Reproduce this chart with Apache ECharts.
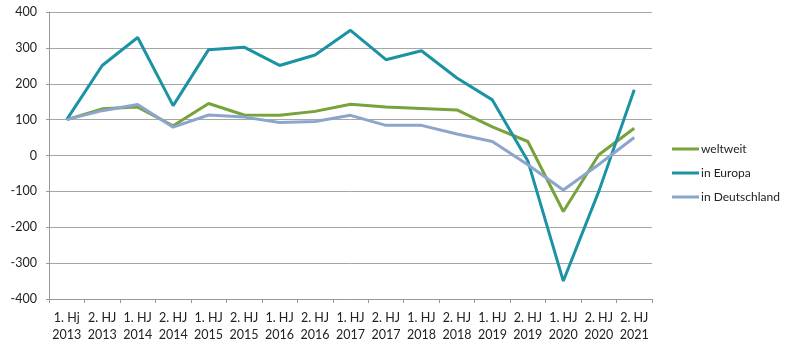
<!DOCTYPE html>
<html>
<head>
<meta charset="utf-8">
<script src="https://cdn.jsdelivr.net/npm/echarts@6/dist/echarts.min.js"></script>
<style>
  html, body { margin: 0; padding: 0; background: #fff; }
  #chart { width: 800px; height: 352px; }
</style>
</head>
<body>
<div id="chart"></div>
<script>
// Halbjahre (Beschriftung wie im Original)
const categories = [
  '1. Hj\n2013', '2. HJ\n2013', '1. HJ\n2014', '2. HJ\n2014', '1. HJ\n2015', '2. HJ\n2015',
  '1. HJ\n2016', '2. HJ\n2016', '1. HJ\n2017', '2. HJ\n2017', '1. HJ\n2018', '2. HJ\n2018',
  '1. HJ\n2019', '2. HJ\n2019', '1. HJ\n2020', '2. HJ\n2020', '2. HJ\n2021'
];

const weltweit = [100, 130, 135, 83, 145, 113, 112, 123, 143, 135, 131, 127, 80, 39, -156, 2, 76];
const inEuropa = [100, 251, 329, 139, 295, 302, 251, 280, 349, 267, 292, 216, 155, -15, -350, -100, 183];
const inDeutschland = [100, 125, 142, 79, 113, 107, 92, 95, 112, 84, 84, 60, 39, -26, -96, -25, 50];

const yTicks = { min: -400, max: 400, step: 100 };

const chart = echarts.init(document.getElementById('chart'));

const textStyle = { fontFamily: 'Lato', fontSize: 12, color: '#222' };

const option = {
  animation: false,
  grid: { left: 49, right: 148, top: 12, bottom: 53 },
  legend: {
    orient: 'vertical',
    left: 667,
    top: 138,
    icon: 'rect',
    itemWidth: 27,
    itemHeight: 3,
    itemGap: 12,
    textStyle: { fontFamily: 'Lato', fontSize: 12, color: '#222', padding: [0, 0, 0, -3] },
    data: ['weltweit', 'in Europa', 'in Deutschland']
  },
  xAxis: [
    {
      type: 'category',
      data: categories,
      boundaryGap: true,
      position: 'bottom',
      axisLine: { show: false },
      axisTick: { show: false },
      axisLabel: { ...textStyle, fontSize: 12.5, interval: 0, lineHeight: 17, margin: 10 }
    },
    {
      type: 'category',
      data: categories,
      boundaryGap: true,
      position: 'bottom',
      axisLine: { show: true, onZero: true, lineStyle: { color: '#999', width: 1 } },
      axisTick: { show: true, length: 4, lineStyle: { color: '#999' }, interval: 0 },
      axisLabel: { show: false }
    }
  ],
  yAxis: {
    type: 'value',
    min: yTicks.min,
    max: yTicks.max,
    interval: yTicks.step,
    axisLine: { show: true, lineStyle: { color: '#999' } },
    axisTick: { show: true, length: 3, lineStyle: { color: '#999' } },
    axisLabel: { ...textStyle, fontSize: 12.5, margin: 12 },
    splitLine: { show: true, lineStyle: { color: '#a6a6a6', width: 1 } }
  },
  series: [
    {
      name: 'weltweit',
      type: 'line',
      data: weltweit,
      symbol: 'none',
      color: '#77a23c',
      lineStyle: { width: 3 }
    },
    {
      name: 'in Europa',
      type: 'line',
      data: inEuropa,
      symbol: 'none',
      color: '#1b93a2',
      lineStyle: { width: 3 }
    },
    {
      name: 'in Deutschland',
      type: 'line',
      data: inDeutschland,
      symbol: 'none',
      color: '#8ca5cd',
      lineStyle: { width: 3 }
    }
  ]
};

chart.setOption(option);
</script>
</body>
</html>
